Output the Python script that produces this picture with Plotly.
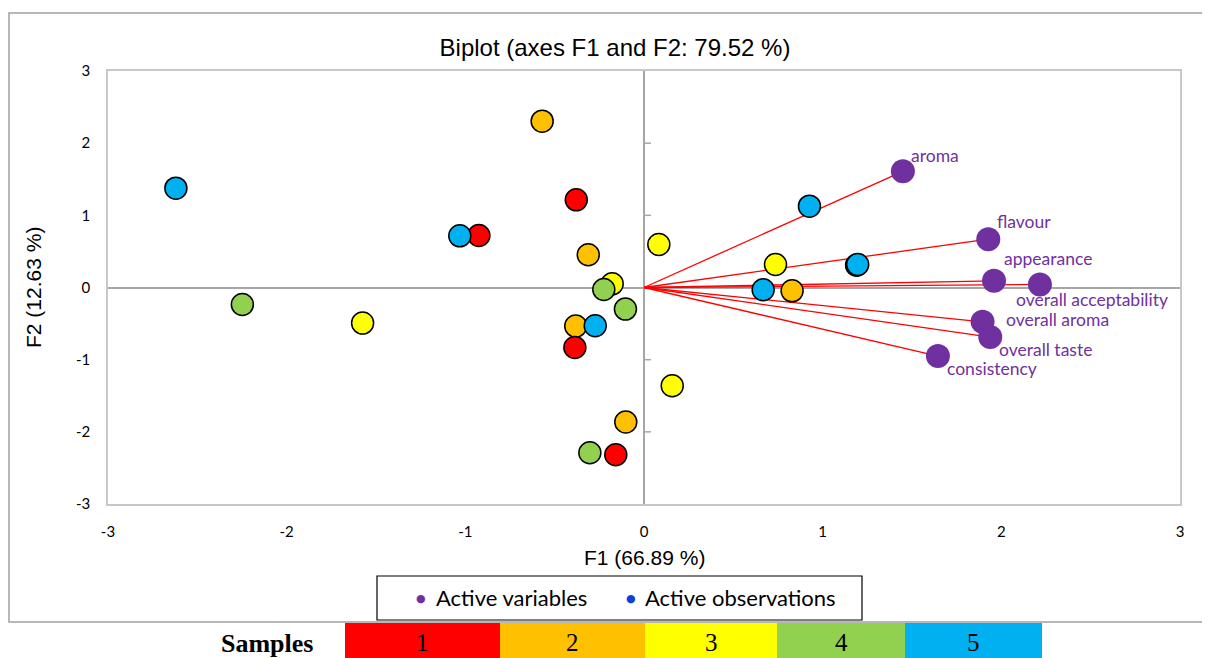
import plotly.graph_objects as go

# ---------------- data ----------------
# Active observations (F1, F2) per sample group
obs_sample1_x = [-0.924, -0.379, -0.387, -0.158]
obs_sample1_y = [0.720, 1.215, -0.831, -2.317]
obs_sample2_x = [-0.570, -0.312, -0.382, -0.102, 0.829]
obs_sample2_y = [2.305, 0.453, -0.535, -1.864, -0.046]
obs_sample3_x = [-1.575, -0.178, 0.083, 0.158, 0.736]
obs_sample3_y = [-0.493, 0.051, 0.596, -1.362, 0.319]
obs_sample4_x = [-2.248, -0.225, -0.104, -0.303]
obs_sample4_y = [-0.235, -0.028, -0.299, -2.290]
obs_sample5_x = [-2.620, -1.031, -0.273, 0.926, 1.190, 1.196, 0.667]
obs_sample5_y = [1.377, 0.716, -0.530, 1.127, 0.310, 0.318, -0.032]

# Active variables
var_names = ["aroma", "flavour", "appearance", "overall acceptability",
             "overall aroma", "overall taste", "consistency"]
var_x = [1.449, 1.927, 1.959, 2.216, 1.895, 1.938, 1.645]
var_y = [1.610, 0.670, 0.093, 0.042, -0.475, -0.687, -0.950]

sample_labels = ["1", "2", "3", "4", "5"]
tick_vals = [-3, -2, -1, 0, 1, 2, 3]
tick_text = ["-3", "-2", "-1", "0", "1", "2", "3"]

title_text = "Biplot (axes F1 and F2: 79.52 %)"
xaxis_title = "F1 (66.89 %)"
yaxis_title = "F2 (12.63 %)"
legend_labels = ["Active variables", "Active observations"]
samples_title = "Samples"

# ---------------- styles ----------------
OFF = 8                      # page body margin
W, H = 1210 - OFF, 658 - OFF
L, R, T, B = 108, 1180, 71, 504  # plot area in screenshot pixels
sample_colors = ["#FF0000", "#FFC000", "#FFFF00", "#92D050", "#00B0F0"]
VAR_COLOR = "#7030A0"
OBS_BLUE = "#0A40E0"
CAL = "Lato, 'Open Sans', sans-serif"
ARIAL = "'Liberation Sans', Arial, sans-serif"
TIMES = "'Liberation Serif', 'Times New Roman', serif"

def px(x):
    return (x - L) / (R - L)

def py(y):
    return (B - y) / (B - T)

fig = go.Figure()

# red vectors from origin to each variable
lx, ly = [], []
for vx, vy in zip(var_x, var_y):
    lx += [0, vx, None]
    ly += [0, vy, None]
fig.add_trace(go.Scatter(x=lx, y=ly, mode="lines",
                         line=dict(color="#FF0000", width=1.3),
                         hoverinfo="skip", showlegend=False))

# variables
fig.add_trace(go.Scatter(x=var_x, y=var_y, mode="markers", text=var_names,
                         marker=dict(size=24, color=VAR_COLOR, line=dict(width=0)),
                         showlegend=False))

# observations, drawn in overlap order
groups = [
    (obs_sample2_x, obs_sample2_y, sample_colors[1]),
    (obs_sample3_x, obs_sample3_y, sample_colors[2]),
    (obs_sample4_x, obs_sample4_y, sample_colors[3]),
    (obs_sample1_x, obs_sample1_y, sample_colors[0]),
    (obs_sample5_x, obs_sample5_y, sample_colors[4]),
]
for gx, gy, c in groups:
    fig.add_trace(go.Scatter(x=gx, y=gy, mode="markers",
                             marker=dict(size=22, color=c,
                                         line=dict(color="black", width=1.5)),
                             showlegend=False))

# variable labels
label_offsets = {
    "aroma": (6, 16),
    "flavour": (7, 18),
    "appearance": (8, 22),
    "overall acceptability": (-26, -15),
    "overall aroma": (21, 2),
    "overall taste": (7, -12),
    "consistency": (7, -12),
}
annotations = []
for name, vx, vy in zip(var_names, var_x, var_y):
    dx, dy = label_offsets[name]
    annotations.append(dict(x=vx, y=vy, xref="x", yref="y", text=name,
                            showarrow=False, xanchor="left", yanchor="middle",
                            xshift=dx, yshift=dy,
                            font=dict(family=CAL, size=17.5, color=VAR_COLOR)))

# axis titles
annotations.append(dict(x=px(644), y=py(557), xref="paper", yref="paper",
                        text=xaxis_title, showarrow=False,
                        xanchor="center", yanchor="middle",
                        font=dict(family=ARIAL, size=21, color="black")))
annotations.append(dict(x=px(33), y=py(288), xref="paper", yref="paper",
                        text=yaxis_title, showarrow=False, textangle=-90,
                        xanchor="center", yanchor="middle",
                        font=dict(family=ARIAL, size=21, color="black")))

shapes = []
# outer chart border
shapes.append(dict(type="rect", xref="paper", yref="paper",
                   x0=px(9), x1=px(1220), y0=py(622), y1=py(13),
                   line=dict(color="#A0A0A0", width=1.5), layer="below"))
# ticks on the vertical zero axis
for tv in [-2, -1, 1, 2]:
    shapes.append(dict(type="line", xref="x", yref="y", xsizemode="pixel",
                       xanchor=0, x0=-1, x1=7, y0=tv, y1=tv,
                       line=dict(color="#A6A6A6", width=1.5)))

# legend box
shapes.append(dict(type="rect", xref="paper", yref="paper",
                   x0=px(377), x1=px(862), y0=py(620), y1=py(576),
                   line=dict(color="black", width=1.2), fillcolor="white"))
leg_items = [(421, 434, VAR_COLOR, legend_labels[0]),
             (631, 643, OBS_BLUE, legend_labels[1])]
for dotx, textx, col, lab in leg_items:
    annotations.append(dict(x=px(dotx), y=py(598), xref="paper", yref="paper",
                            text="●", showarrow=False, xanchor="center",
                            yanchor="middle",
                            font=dict(family="DejaVu Sans", size=11, color=col)))
    annotations.append(dict(x=px(textx), y=py(597), xref="paper", yref="paper",
                            text=lab, showarrow=False, xanchor="left",
                            yanchor="middle",
                            font=dict(family=CAL, size=22, color="black")))

# samples colour key
box_edges = [345, 500, 645, 777, 905, 1042]
for i, lab in enumerate(sample_labels):
    shapes.append(dict(type="rect", xref="paper", yref="paper",
                       x0=px(box_edges[i]), x1=px(box_edges[i + 1]),
                       y0=py(660), y1=py(623), line=dict(width=0),
                       fillcolor=sample_colors[i]))
    annotations.append(dict(x=px((box_edges[i] + box_edges[i + 1]) / 2),
                            y=py(642), xref="paper", yref="paper", text=lab,
                            showarrow=False, xanchor="center", yanchor="middle",
                            font=dict(family=TIMES, size=25, color="black")))
annotations.append(dict(x=px(267), y=py(643), xref="paper", yref="paper",
                        text="<b>" + samples_title + "</b>", showarrow=False,
                        xanchor="center", yanchor="middle",
                        font=dict(family=TIMES, size=26, color="black")))

fig.update_layout(
    width=W, height=H, autosize=False,
    margin=dict(l=L - OFF, r=W - (R - OFF), t=T - OFF, b=H - (B - OFF)),
    paper_bgcolor="white", plot_bgcolor="white",
    title=dict(text=title_text, x=(615 - OFF) / W, xref="container",
               xanchor="center", y=1 - (48 - OFF) / H, yref="container",
               yanchor="middle",
               font=dict(family=ARIAL, size=24, color="black")),
    xaxis=dict(range=[-3, 3], tickvals=tick_vals, ticktext=tick_text,
               showgrid=False, zeroline=True, zerolinecolor="#A6A6A6",
               zerolinewidth=1.5, showline=True, mirror=True,
               linecolor="#C8C8C8", linewidth=1.5, ticks="",
               ticklabelstandoff=13,
               tickfont=dict(family=CAL, size=15, color="black"),
               fixedrange=True),
    yaxis=dict(range=[-3, 3], tickvals=tick_vals, ticktext=tick_text,
               showgrid=False, zeroline=True, zerolinecolor="#A6A6A6",
               zerolinewidth=1.5, showline=True, mirror=True,
               linecolor="#C8C8C8", linewidth=1.5, ticks="",
               ticklabelstandoff=13,
               tickfont=dict(family=CAL, size=15, color="black"),
               fixedrange=True),
    shapes=shapes,
    annotations=annotations,
    showlegend=False,
)

fig.write_html("out.html")
